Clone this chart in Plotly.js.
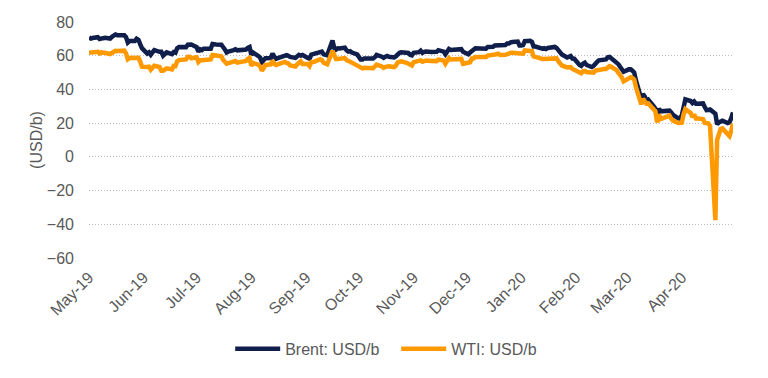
<!DOCTYPE html>
<html>
<head>
<meta charset="utf-8">
<script src="https://cdn.plot.ly/plotly-3.0.1.min.js"></script>
<style>
html,body{margin:0;padding:0;background:#fff;}
#chart{width:768px;height:378px;}
</style>
</head>
<body>
<div id="chart"></div>
<script>
// Trading days (weekdays) from startDate to endDate
var startDate = '2019-05-01';
var endDate = '2020-04-30';

var seriesNames = ['Brent: USD/b', 'WTI: USD/b'];

// Brent, one value per weekday, May-19 .. Apr-20
var brent = [
  // May-19
  70.8, 70.2, 70.5, 71.0, 69.9, 70.4, 70.4, 70.6, 70.2, 71.2, 71.8, 72.6, 72.2, 72.0, 72.2, 71.0, 67.8, 68.7, 68.7, 70.1, 69.5, 66.9, 64.5,
  // Jun-19
  61.3, 62.0, 60.6, 61.7, 63.3, 62.3, 62.3, 60.0, 61.3, 62.0, 60.9, 62.1, 61.8, 64.5, 65.2, 64.9, 65.1, 66.5, 66.6, 66.6,
  // Jul-19
  65.1, 62.4, 63.8, 63.3, 64.2, 64.1, 64.2, 67.0, 66.5, 66.7, 66.5, 64.4, 63.7, 61.9, 62.5, 63.3, 63.8, 63.2, 63.4, 63.5, 63.7, 64.7, 65.2,
  // Aug-19
  60.5, 61.9, 59.8, 58.9, 56.2, 57.4, 58.5, 58.6, 61.3, 59.5, 58.2, 58.6, 59.7, 60.0, 60.3, 59.9, 59.3, 58.7, 59.5, 60.5, 60.1, 60.4,
  // Sep-19
  58.7, 58.3, 60.7, 61.0, 61.5, 62.6, 62.4, 60.8, 60.4, 60.2, 69.0, 64.6, 63.6, 64.4, 64.3, 64.8, 63.1, 62.4, 62.7, 61.9, 60.8,
  // Oct-19
  58.9, 57.7, 57.7, 58.4, 58.4, 58.2, 58.3, 59.1, 60.5, 59.4, 58.7, 59.4, 59.9, 59.4, 59.0, 59.7, 61.2, 61.7, 62.0, 61.6, 61.6, 60.6, 60.2,
  // Nov-19
  61.7, 62.1, 63.0, 61.7, 62.3, 62.5, 62.2, 62.1, 62.4, 62.3, 63.3, 62.4, 60.9, 62.4, 64.0, 63.4, 63.7, 64.3, 64.1, 63.9, 62.4,
  // Dec-19
  60.9, 62.0, 63.0, 63.4, 64.4, 64.3, 64.3, 63.7, 64.2, 65.2, 65.3, 66.1, 66.2, 66.5, 66.1, 66.4, 67.2, 67.2, 67.9, 68.2, 68.4, 66.0,
  // Jan-20
  66.0, 66.3, 68.6, 68.9, 68.3, 65.4, 65.4, 65.0, 64.2, 64.5, 64.0, 64.6, 64.9, 65.2, 64.6, 63.2, 62.0, 60.7, 58.9, 59.5, 59.8, 58.3, 58.2,
  // Feb-20
  54.5, 54.0, 55.3, 55.9, 54.5, 53.3, 54.0, 55.8, 56.3, 57.3, 57.7, 57.8, 59.1, 59.3, 58.5, 56.3, 55.0, 53.4, 52.2, 50.5,
  // Mar-20
  51.9, 51.9, 51.1, 50.0, 45.3, 34.4, 37.2, 35.8, 33.2, 33.9, 30.1, 28.7, 24.9, 28.5, 27.0, 27.0, 27.2, 27.4, 26.3, 24.9, 22.8, 22.7,
  // Apr-20
  24.7, 29.9, 34.1, 33.1, 31.9, 32.8, 31.5, 31.5, 31.7, 29.6, 27.7, 27.8, 28.1, 25.6, 19.3, 20.4, 21.3, 21.4, 20.0, 20.5, 23.0, 26.3
];

// WTI, one value per weekday, May-19 .. Apr-20
var wti = [
  // May-19
  61.8, 61.8, 61.9, 62.3, 61.4, 62.1, 61.7, 61.7, 61.0, 61.8, 62.0, 62.9, 62.8, 63.1, 63.0, 61.4, 57.9, 58.6, 58.6, 59.1, 58.8, 56.6, 53.5,
  // Jun-19
  53.3, 53.5, 51.7, 52.6, 54.0, 53.3, 51.1, 51.1, 52.3, 52.5, 51.9, 53.9, 53.8, 56.7, 57.4, 57.9, 57.8, 59.4, 59.4, 58.5,
  // Jul-19
  59.1, 56.3, 57.3, 57.3, 57.5, 57.7, 57.8, 60.4, 60.2, 60.2, 59.6, 57.6, 56.8, 55.3, 55.6, 56.2, 56.8, 55.9, 56.0, 56.2, 56.9, 58.1, 58.6,
  // Aug-19
  54.0, 55.7, 54.7, 53.6, 51.1, 52.5, 54.5, 54.9, 57.1, 55.2, 54.5, 54.9, 56.2, 56.3, 55.7, 55.4, 54.2, 53.6, 54.9, 55.8, 56.7, 55.1,
  // Sep-19
  55.1, 53.9, 56.3, 56.3, 56.5, 57.9, 57.4, 55.8, 55.1, 54.9, 62.9, 59.3, 58.1, 58.1, 58.1, 58.6, 57.3, 56.5, 56.4, 55.9, 54.1,
  // Oct-19
  53.6, 52.6, 52.5, 52.8, 52.8, 52.6, 52.6, 53.6, 54.7, 53.6, 52.8, 53.4, 53.9, 53.8, 53.3, 54.2, 56.0, 56.2, 56.7, 55.8, 55.5, 55.1, 54.2,
  // Nov-19
  56.2, 56.5, 57.2, 56.4, 57.2, 57.2, 56.9, 56.8, 57.1, 56.8, 57.7, 57.1, 55.2, 57.1, 58.6, 57.8, 58.0, 58.4, 58.1, 58.1, 55.2,
  // Dec-19
  56.0, 56.1, 58.4, 58.4, 59.2, 59.0, 59.2, 58.8, 59.2, 60.1, 60.2, 60.9, 60.9, 61.2, 60.4, 60.5, 61.1, 61.1, 61.7, 61.7, 61.7, 61.1,
  // Jan-20
  61.1, 61.2, 63.1, 63.3, 62.7, 59.6, 59.6, 59.0, 58.1, 58.2, 57.8, 58.5, 58.5, 58.5, 58.4, 56.7, 55.6, 54.2, 53.1, 53.5, 53.3, 52.1, 51.6,
  // Feb-20
  50.1, 49.6, 50.8, 51.0, 50.3, 49.6, 49.9, 51.2, 51.4, 52.1, 52.1, 52.1, 53.3, 53.8, 53.4, 51.4, 49.9, 48.7, 47.1, 44.8,
  // Mar-20
  46.8, 47.2, 46.8, 45.9, 41.3, 31.1, 34.4, 33.0, 31.5, 31.7, 28.7, 27.0, 20.4, 25.2, 22.4, 23.4, 24.0, 24.5, 22.6, 21.5, 20.1, 20.5,
  // Apr-20
  20.3, 25.3, 28.3, 26.1, 23.6, 25.1, 22.8, 22.8, 22.4, 20.1, 19.9, 19.9, 18.3, -37.6, 10.0, 13.8, 16.5, 16.9, 12.8, 12.3, 15.5, 19.8
];

var yTickVals = [-60, -40, -20, 0, 20, 40, 60, 80];
var yTitle = '(USD/b)';

function weekdays(a, b) {
  var out = [];
  var d = new Date(a + 'T00:00:00Z');
  var e = new Date(b + 'T00:00:00Z');
  while (d <= e) {
    var w = d.getUTCDay();
    if (w !== 0 && w !== 6) out.push(d.toISOString().slice(0, 10));
    d.setUTCDate(d.getUTCDate() + 1);
  }
  return out;
}
var dates = weekdays(startDate, endDate);

var textColor = '#595959';
var fontFam = 'Liberation Sans, Arial, sans-serif';

var traces = [
  {x: dates, y: brent, name: seriesNames[0], type: 'scatter', mode: 'lines',
   line: {color: '#0f1e4a', width: 4.5}},
  {x: dates, y: wti, name: seriesNames[1], type: 'scatter', mode: 'lines',
   line: {color: '#ff9900', width: 4.5}}
];

var layout = {
  width: 768, height: 378,
  margin: {l: 89, r: 35, t: 22, b: 120},
  paper_bgcolor: '#ffffff', plot_bgcolor: '#ffffff',
  font: {family: fontFam, size: 16, color: textColor},
  showlegend: true,
  legend: {orientation: 'h', x: 0.477, xanchor: 'center', y: -0.385, yanchor: 'middle',
           itemwidth: 45, tracegroupgap: 0, entrywidth: 106, entrywidthmode: 'pixels',
           font: {family: fontFam, size: 16, color: textColor}},
  xaxis: {
    type: 'date', range: [startDate, endDate],
    tickformat: '%b-%y', dtick: 'M1', tick0: startDate, tickangle: -45,
    ticks: '', showgrid: false, zeroline: false, showline: false,
    tickfont: {family: fontFam, size: 16, color: textColor},
    ticklabelstandoff: 6
  },
  xaxis2: {
    type: 'date', range: [startDate, endDate], overlaying: 'x',
    anchor: 'free', position: 60 / 140, side: 'bottom',
    dtick: 'M1', tick0: startDate,
    showline: true, linecolor: '#d9d9d9', linewidth: 2.5,
    ticks: 'outside', ticklen: 5, tickwidth: 2, tickcolor: '#d9d9d9',
    showticklabels: false, showgrid: false, zeroline: false
  },
  yaxis: {
    range: [-60, 80], tickvals: yTickVals, ticks: '',
    showgrid: true, gridcolor: '#bdbdbd', gridwidth: 1, griddash: '1px,2px',
    zeroline: false, showline: false,
    tickfont: {family: fontFam, size: 16, color: textColor},
    ticklabelstandoff: 14,
    title: {text: yTitle, font: {family: fontFam, size: 16, color: textColor}, standoff: 0}
  }
};

Plotly.newPlot('chart', traces, layout, {displayModeBar: false, staticPlot: true});
</script>
</body>
</html>
